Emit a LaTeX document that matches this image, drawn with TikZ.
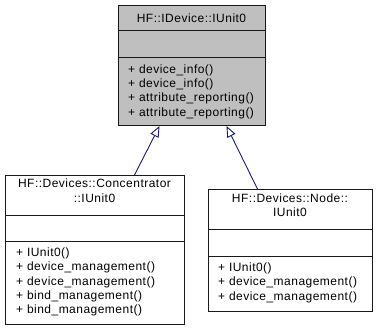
\documentclass[tikz,border=0pt]{standalone}
\usepackage{fontspec}
\setmainfont{Liberation Sans}[LetterSpace=4]
\usetikzlibrary{arrows.meta}

\definecolor{edgeblue}{HTML}{191970}
\definecolor{basefill}{HTML}{BFBFBF}

\tikzset{
	classbox/.style={draw=black!90,line width=1pt,inner sep=0pt,anchor=north west},
	classname/.style={anchor=base,inner sep=0pt,font=\fontsize{12}{14}\selectfont},
	member/.style={anchor=base west,inner sep=0pt,font=\fontsize{12}{14}\selectfont},
	inherit/.style={draw=edgeblue,line width=0.9pt,-{Triangle[open,length=11pt,width=9pt]}}
}

\begin{document}
\begin{tikzpicture}[x=1pt,y=-1pt]
		\useasboundingbox (0,0) rectangle (376,331);

		% base class
		\node[classbox,fill=basefill,minimum width=147pt,minimum height=120pt] (base) at (118,5) {};
		\draw[black!90] (base.west |- 0,30) -- (base.east |- 0,30);
		\draw[black!90] (base.west |- 0,57) -- (base.east |- 0,57);
		\node[classname] (base-name) at (191.5,22.7) {HF::IDevice::IUnit0};
		\foreach \m [count=\i from 0] in {device\_info(),device\_info(),attribute\_reporting(),attribute\_reporting()}
			\node[member] (base-m\i) at (128,73.3+14.3*\i) {+ \m};

		% concentrator
		\node[classbox,minimum width=179pt,minimum height=149pt] (conc) at (5,175) {};
		\draw[black!90] (conc.west |- 0,215) -- (conc.east |- 0,215);
		\draw[black!90] (conc.west |- 0,241) -- (conc.east |- 0,241);
		\node[classname] (conc-name1) at (94.5,188) {HF::Devices::Concentrator};
		\node[classname] (conc-name2) at (94.5,202.5) {::IUnit0};
		\foreach \m [count=\i from 0] in {IUnit0(),device\_management(),device\_management(),bind\_management(),bind\_management()}
			\node[member] (conc-m\i) at (16,256.7+14.3*\i) {+ \m};

		% node
		\node[classbox,minimum width=164pt,minimum height=122pt] (node) at (208,189) {};
		\draw[black!90] (node.west |- 0,229) -- (node.east |- 0,229);
		\draw[black!90] (node.west |- 0,256) -- (node.east |- 0,256);
		\node[classname] (node-name1) at (290,202.7) {HF::Devices::Node::};
		\node[classname] (node-name2) at (290,217) {IUnit0};
		\foreach \m [count=\i from 0] in {IUnit0(),device\_management(),device\_management()}
			\node[member] (node-m\i) at (218,271.5+14.3*\i) {+ \m};

		\draw[inherit] ([xshift=39.5pt]conc.north) -- ([xshift=-32.5pt]base.south);
		\draw[inherit] ([xshift=-33pt]node.north) -- ([xshift=34.5pt]base.south);
\end{tikzpicture}
\end{document}
